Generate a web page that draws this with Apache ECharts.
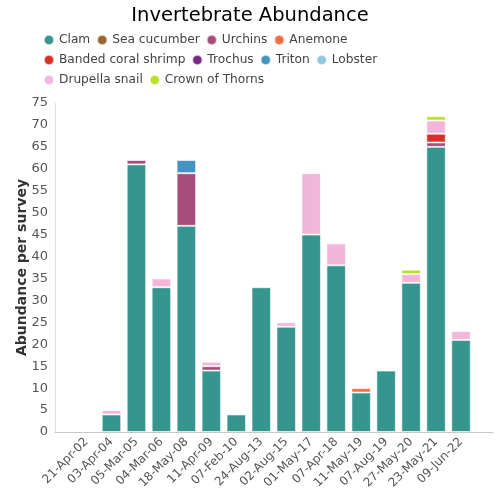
<!DOCTYPE html>
<html><head><meta charset="utf-8">
<script src="https://cdn.jsdelivr.net/npm/echarts@6/dist/echarts.min.js"></script>
<style>html,body{margin:0;padding:0;background:#fff}#c{width:500px;height:500px}</style>
</head><body><div id="c"></div>
<script>
const categories = ['21-Apr-02','03-Apr-04','05-Mar-05','04-Mar-06','18-May-08','11-Apr-09','07-Feb-10','24-Aug-13','02-Aug-15','01-May-17','07-Apr-18','11-May-19','07-Aug-19','27-May-20','23-May-21','09-Jun-22'];
const seriesNames = ['Clam','Sea cucumber','Urchins','Anemone','Banded coral shrimp','Trochus','Triton','Lobster','Drupella snail','Crown of Thorns'];
const clam          = [0,4,61,33,47,14,4,33,24,45,38,9,14,34,65,21];
const seaCucumber   = [0,0,0,0,0,0,0,0,0,0,0,0,0,0,0,0];
const urchins       = [0,0,1,0,12,1,0,0,0,0,0,0,0,0,1,0];
const anemone       = [0,0,0,0,0,0,0,0,0,0,0,1,0,0,0,0];
const bandedShrimp  = [0,0,0,0,0,0,0,0,0,0,0,0,0,0,2,0];
const trochus       = [0,0,0,0,0,0,0,0,0,0,0,0,0,0,0,0];
const triton        = [0,0,0,0,3,0,0,0,0,0,0,0,0,0,0,0];
const lobster       = [0,0,0,0,0,0,0,0,0,0,0,0,0,0,0,0];
const drupella      = [0,1,0,2,0,1,0,0,1,14,5,0,0,2,3,2];
const crownOfThorns = [0,0,0,0,0,0,0,0,0,0,0,0,0,1,1,0];
const yTicks = [0,5,10,15,20,25,30,35,40,45,50,55,60,65,70,75];
const colors = ['#36958e','#98652f','#a64d79','#f46d43','#d73027','#762a83','#4393c3','#92c5de','#f1b6da','#b8e12e'];
const values = [clam,seaCucumber,urchins,anemone,bandedShrimp,trochus,triton,lobster,drupella,crownOfThorns];

const chart = echarts.init(document.getElementById('c'), null, {renderer:'canvas'});
const font = 'DejaVu Sans';
chart.setOption({
  animation:false,
  color: colors,
  textStyle:{fontFamily:font},
  title:{text:'Invertebrate Abundance', left:'center', top:1, textStyle:{fontFamily:font, fontSize:19.5, fontWeight:'normal', color:'#000'}},
  legend:{left:38, top:28, width:400, itemWidth:10, itemHeight:10, itemGap:6, icon:'circle',
    textStyle:{fontFamily:font, fontSize:12.2, lineHeight:14, color:'#444'}, data:seriesNames},
  grid:[
    {left:55, right:7, top:103, bottom:68},
    {left:74, right:26.5, top:103, bottom:68}
  ],
  xAxis:[
    {gridIndex:0, type:'category', data:[''], axisLine:{lineStyle:{color:'#c8c8c8'}}, axisTick:{show:false}, axisLabel:{show:false}},
    {gridIndex:1, type:'category', data:categories, axisLine:{show:false}, axisTick:{show:false},
      axisLabel:{rotate:45, interval:0, fontSize:12, color:'#555', fontFamily:font, margin:8}}
  ],
  yAxis:[
    {gridIndex:0, type:'value', min:0, max:75, interval:5, splitLine:{show:false},
      axisLine:{show:true, lineStyle:{color:'#e0e0e0'}}, axisTick:{show:false},
      axisLabel:{fontSize:13, color:'#555', fontFamily:font, margin:7},
      name:'Abundance per survey', nameLocation:'middle', nameGap:26, nameMoveOverlap:false,
      nameTextStyle:{fontSize:14, fontWeight:'bold', color:'#333', fontFamily:font}},
    {gridIndex:1, type:'value', min:0, max:75, interval:5, show:false, splitLine:{show:false}}
  ],
  series: seriesNames.map((n,i)=>({
    name:n, type:'bar', stack:'total', xAxisIndex:1, yAxisIndex:1,
    barWidth:'78%', data: values[i].map(v=> v===0 ? null : v),
    itemStyle:{color:colors[i], borderColor:'rgba(255,255,255,0.6)', borderWidth:1}
  }))
});
</script></body></html>
